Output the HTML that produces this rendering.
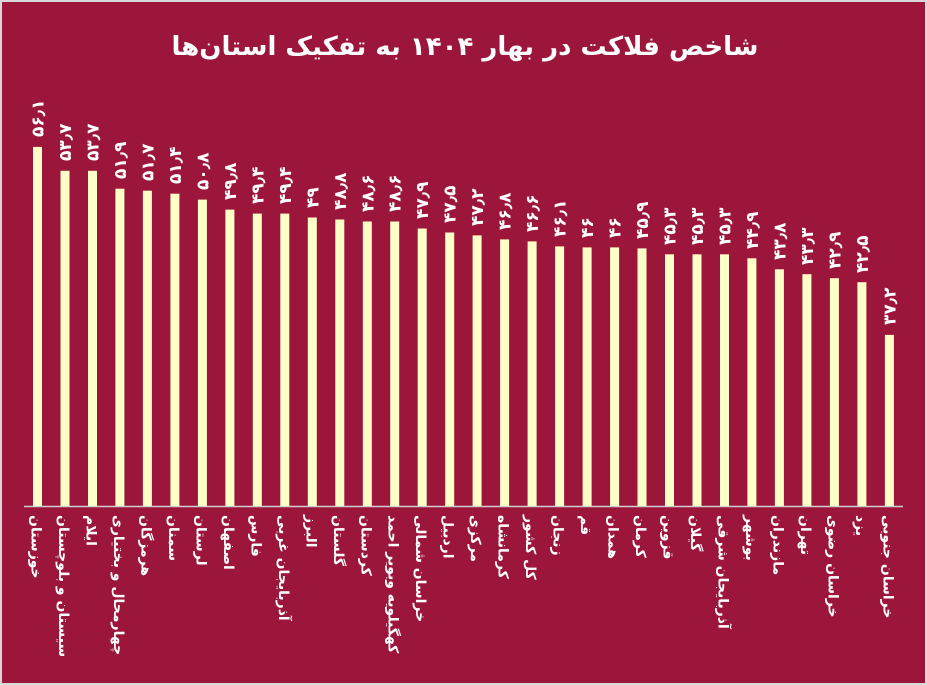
<!DOCTYPE html>
<html><head><meta charset="utf-8"><style>
html,body{margin:0;padding:0;background:#d8d8d8;}
svg{display:block}
text{font-family:"DejaVu Sans","Liberation Sans",sans-serif;font-weight:bold;fill:#fff}
.v{font-size:17px}
.c{font-size:14px}
</style></head><body>
<svg width="927" height="685" xmlns="http://www.w3.org/2000/svg">
<rect x="2" y="2" width="923" height="681" fill="#9b163a"/>
<text x="465" y="55" font-size="26" text-anchor="middle">شاخص فلاکت در بهار ۱۴۰۴ به تفکیک استان‌ها</text>
<line x1="24" y1="506.5" x2="903" y2="506.5" stroke="#cfcfcf" stroke-width="1.5"/>
<g fill="#ffffc8">
<rect x="33.0" y="146.9" width="9" height="359.1"/>
<rect x="60.5" y="170.8" width="9" height="335.2"/>
<rect x="88.0" y="170.8" width="9" height="335.2"/>
<rect x="115.4" y="188.7" width="9" height="317.3"/>
<rect x="142.9" y="190.7" width="9" height="315.3"/>
<rect x="170.4" y="193.7" width="9" height="312.3"/>
<rect x="197.9" y="199.6" width="9" height="306.4"/>
<rect x="225.4" y="209.6" width="9" height="296.4"/>
<rect x="252.8" y="213.6" width="9" height="292.4"/>
<rect x="280.3" y="213.6" width="9" height="292.4"/>
<rect x="307.8" y="217.5" width="9" height="288.5"/>
<rect x="335.3" y="219.5" width="9" height="286.5"/>
<rect x="362.8" y="221.5" width="9" height="284.5"/>
<rect x="390.2" y="221.5" width="9" height="284.5"/>
<rect x="417.7" y="228.5" width="9" height="277.5"/>
<rect x="445.2" y="232.5" width="9" height="273.5"/>
<rect x="472.6" y="235.4" width="9" height="270.6"/>
<rect x="500.1" y="239.4" width="9" height="266.6"/>
<rect x="527.6" y="241.4" width="9" height="264.6"/>
<rect x="555.1" y="246.4" width="9" height="259.6"/>
<rect x="582.6" y="247.4" width="9" height="258.6"/>
<rect x="610.1" y="247.4" width="9" height="258.6"/>
<rect x="637.5" y="248.4" width="9" height="257.6"/>
<rect x="665.0" y="254.3" width="9" height="251.7"/>
<rect x="692.5" y="254.3" width="9" height="251.7"/>
<rect x="720.0" y="254.3" width="9" height="251.7"/>
<rect x="747.4" y="258.3" width="9" height="247.7"/>
<rect x="774.9" y="269.3" width="9" height="236.7"/>
<rect x="802.4" y="274.2" width="9" height="231.8"/>
<rect x="829.9" y="278.2" width="9" height="227.8"/>
<rect x="857.4" y="282.2" width="9" height="223.8"/>
<rect x="884.9" y="334.9" width="9" height="171.1"/>
</g>
<g class="v">
<text transform="translate(43.5,137) rotate(-90)">۵۶٫۱</text>
<text transform="translate(71.0,161) rotate(-90)">۵۳٫۷</text>
<text transform="translate(98.5,161) rotate(-90)">۵۳٫۷</text>
<text transform="translate(125.9,179) rotate(-90)">۵۱٫۹</text>
<text transform="translate(153.4,181) rotate(-90)">۵۱٫۷</text>
<text transform="translate(180.9,184) rotate(-90)">۵۱٫۴</text>
<text transform="translate(208.4,190) rotate(-90)">۵۰٫۸</text>
<text transform="translate(235.9,200) rotate(-90)">۴۹٫۸</text>
<text transform="translate(263.3,204) rotate(-90)">۴۹٫۴</text>
<text transform="translate(290.8,204) rotate(-90)">۴۹٫۴</text>
<text transform="translate(318.3,208) rotate(-90)">۴۹</text>
<text transform="translate(345.8,210) rotate(-90)">۴۸٫۸</text>
<text transform="translate(373.3,212) rotate(-90)">۴۸٫۶</text>
<text transform="translate(400.7,212) rotate(-90)">۴۸٫۶</text>
<text transform="translate(428.2,219) rotate(-90)">۴۷٫۹</text>
<text transform="translate(455.7,223) rotate(-90)">۴۷٫۵</text>
<text transform="translate(483.1,226) rotate(-90)">۴۷٫۲</text>
<text transform="translate(510.6,230) rotate(-90)">۴۶٫۸</text>
<text transform="translate(538.1,232) rotate(-90)">۴۶٫۶</text>
<text transform="translate(565.6,237) rotate(-90)">۴۶٫۱</text>
<text transform="translate(593.1,238) rotate(-90)">۴۶</text>
<text transform="translate(620.6,238) rotate(-90)">۴۶</text>
<text transform="translate(648.0,239) rotate(-90)">۴۵٫۹</text>
<text transform="translate(675.5,245) rotate(-90)">۴۵٫۳</text>
<text transform="translate(703.0,245) rotate(-90)">۴۵٫۳</text>
<text transform="translate(730.5,245) rotate(-90)">۴۵٫۳</text>
<text transform="translate(757.9,249) rotate(-90)">۴۴٫۹</text>
<text transform="translate(785.4,260) rotate(-90)">۴۳٫۸</text>
<text transform="translate(812.9,265) rotate(-90)">۴۳٫۳</text>
<text transform="translate(840.4,269) rotate(-90)">۴۲٫۹</text>
<text transform="translate(867.9,273) rotate(-90)">۴۲٫۵</text>
<text transform="translate(895.4,325) rotate(-90)">۳۷٫۲</text>
</g>
<g class="c">
<text transform="translate(31.5,515) rotate(90)">خوزستان</text>
<text transform="translate(59.0,515) rotate(90)">سیستان و بلوچستان</text>
<text transform="translate(86.5,515) rotate(90)">ایلام</text>
<text transform="translate(113.9,515) rotate(90)">چهارمحال و بختیاری</text>
<text transform="translate(141.4,515) rotate(90)">هرمزگان</text>
<text transform="translate(168.9,515) rotate(90)">سمنان</text>
<text transform="translate(196.4,515) rotate(90)">لرستان</text>
<text transform="translate(223.9,515) rotate(90)">اصفهان</text>
<text transform="translate(251.3,515) rotate(90)">فارس</text>
<text transform="translate(278.8,515) rotate(90)">آذربایجان غربی</text>
<text transform="translate(306.3,515) rotate(90)">البرز</text>
<text transform="translate(333.8,515) rotate(90)">گلستان</text>
<text transform="translate(361.3,515) rotate(90)">کردستان</text>
<text transform="translate(388.7,515) rotate(90)">کهگیلویه وبویر احمد</text>
<text transform="translate(416.2,515) rotate(90)">خراسان شمالی</text>
<text transform="translate(443.7,515) rotate(90)">اردبیل</text>
<text transform="translate(471.1,515) rotate(90)">مرکزی</text>
<text transform="translate(498.6,515) rotate(90)">کرمانشاه</text>
<text transform="translate(526.1,515) rotate(90)">کل کشور</text>
<text transform="translate(553.6,515) rotate(90)">زنجان</text>
<text transform="translate(581.1,515) rotate(90)">قم</text>
<text transform="translate(608.6,515) rotate(90)">همدان</text>
<text transform="translate(636.0,515) rotate(90)">کرمان</text>
<text transform="translate(663.5,515) rotate(90)">قزوین</text>
<text transform="translate(691.0,515) rotate(90)">گیلان</text>
<text transform="translate(718.5,515) rotate(90)">آذربایجان شرقی</text>
<text transform="translate(745.9,515) rotate(90)">بوشهر</text>
<text transform="translate(773.4,515) rotate(90)">مازندران</text>
<text transform="translate(800.9,515) rotate(90)">تهران</text>
<text transform="translate(828.4,515) rotate(90)">خراسان رضوی</text>
<text transform="translate(855.9,515) rotate(90)">یزد</text>
<text transform="translate(883.4,515) rotate(90)">خراسان جنوبی</text>
</g>
</svg>
</body></html>
